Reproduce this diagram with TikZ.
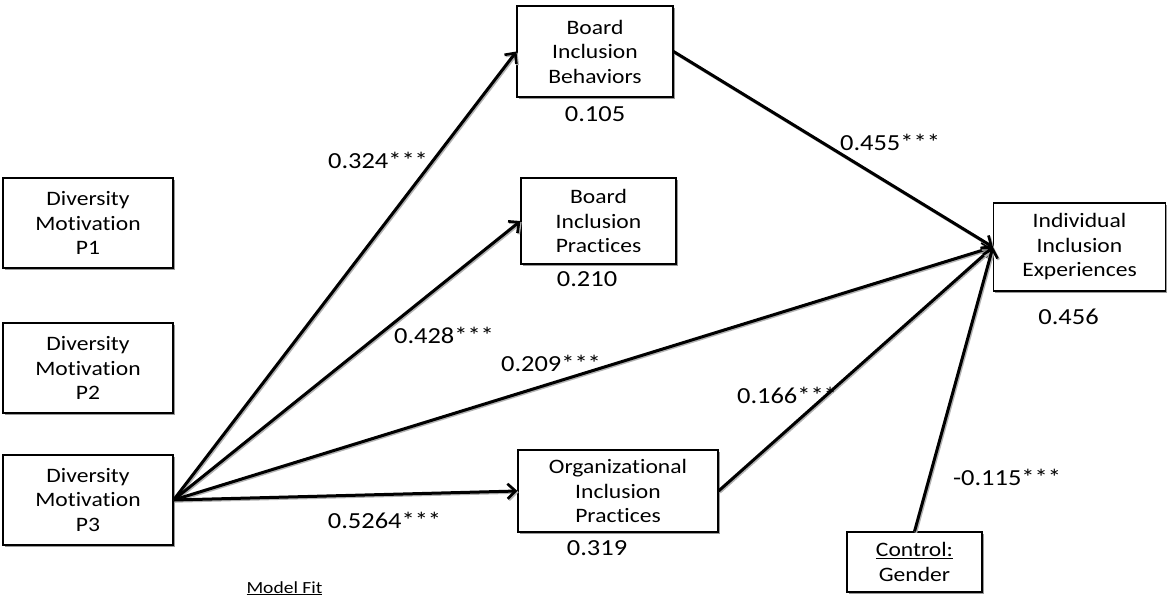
\documentclass[tikz,border=0pt]{standalone}
\usepackage{fontspec}
\setmainfont{Carlito}[FakeStretch=1.15,Ligatures=NoCommon]
\usetikzlibrary{arrows.meta,shadows}
\begin{document}
\begin{tikzpicture}[x=1pt,y=-1pt,
  box/.style={draw=black, line width=1.1pt, fill=white, align=center, inner sep=0pt,
     font=\fontsize{20.5}{24.5}\selectfont,
     drop shadow={shadow xshift=1.6pt,shadow yshift=-1.6pt,fill=black!40,opacity=1}},
  lbl/.style={inner sep=0pt, font=\fontsize{23}{27}\selectfont},
  small/.style={inner sep=0pt, font=\fontsize{17}{20}\selectfont},
  arr/.style={line width=3pt, -{Straight Barb[length=8pt,width=15pt,line width=2.6pt]},
     preaction={draw=black!30, line width=3pt, transform canvas={xshift=1.2pt,yshift=-1.2pt}}}
]
\useasboundingbox (0,0) rectangle (1167,597);

% boxes
\node[box, minimum width=170pt, minimum height=90pt] (p1) at (88,223) {Diversity\\Motivation\\P1};
\node[box, minimum width=170pt, minimum height=90pt] (p2) at (88,368) {Diversity\\Motivation\\P2};
\node[box, minimum width=170pt, minimum height=90pt] (p3) at (88,500) {Diversity\\Motivation\\P3};
\node[box, minimum width=156pt, minimum height=91pt] (bib) at (595,51.5) {Board\\Inclusion\\Behaviors};
\node[box, minimum width=155pt, minimum height=86pt] (bip) at (598.5,221) {Board\\Inclusion\\Practices};
\node[box, minimum width=200pt, minimum height=82pt] (oip) at (618,491) {Organizational\\Inclusion\\Practices};
\node[box, minimum width=172pt, minimum height=88pt] (iie) at (1079.5,247) {Individual\\Inclusion\\Experiences};
\node[box, minimum width=135pt, minimum height=60pt] (ctl) at (914.5,562) {\underline{Control:}\\Gender};

% arrows
\draw[arr] (p3.east) -- (bib.west);
\draw[arr] (p3.east) -- (bip.west);
\draw[arr] (p3.east) -- (iie.west);
\draw[arr] (p3.east) -- (oip.west);
\draw[arr] (bib.east) -- (iie.west);
\draw[arr] (oip.east) -- (iie.west);
\draw[arr] (ctl.north) -- (iie.west);

% path coefficients
\node[lbl] (c1) at (378,160) {0.324***};
\node[lbl] (c2) at (444,335) {0.428***};
\node[lbl] (c3) at (551,363) {0.209***};
\node[lbl] (c4) at (384.5,520) {0.5264***};
\node[lbl] (c5) at (890,142) {0.455***};
\node[lbl] (c6) at (787,395) {0.166***};
\node[lbl] (c7) at (1007,477) {-0.115***};

% R squared
\node[lbl] (r1) at (595,114) {0.105};
\node[lbl] (r2) at (587,279) {0.210};
\node[lbl] (r3) at (597,548) {0.319};
\node[lbl] (r4) at (1068.5,317) {0.456};

\node[small, anchor=base] (mf) at (284.5,593) {\underline{Model Fit}};
\end{tikzpicture}
\end{document}
